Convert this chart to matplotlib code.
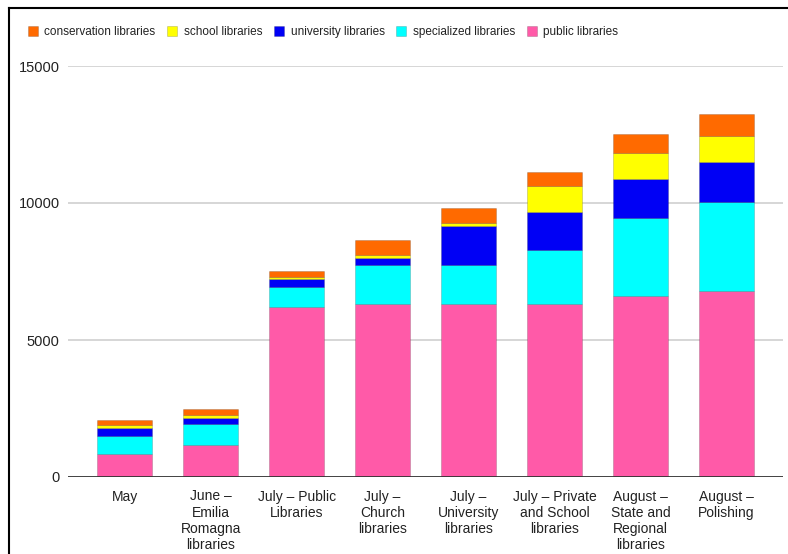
import matplotlib.pyplot as plt
import numpy as np
from matplotlib.lines import Line2D

# library rounds and counts per library type
rounds = ["May", "June –\nEmilia\nRomagna\nlibraries", "July – Public\nLibraries",
          "July –\nChurch\nlibraries", "July –\nUniversity\nlibraries",
          "July – Private\nand School\nlibraries", "August –\nState and\nRegional\nlibraries",
          "August –\nPolishing"]
public = [830, 1170, 6200, 6330, 6330, 6330, 6610, 6780]
specialized = [680, 760, 750, 1400, 1400, 1960, 2830, 3270]
university = [280, 240, 290, 280, 1430, 1390, 1440, 1460]
school = [110, 110, 50, 110, 110, 940, 940, 940]
conservation = [185, 200, 220, 540, 530, 510, 710, 800]

series = [
    ("public libraries", public, "#ff5aa8"),
    ("specialized libraries", specialized, "#00ffff"),
    ("university libraries", university, "#0000f5"),
    ("school libraries", school, "#ffff00"),
    ("conservation libraries", conservation, "#ff6a00"),
]

plt.rcParams['font.family'] = ['Liberation Sans', 'DejaVu Sans']

fig = plt.figure(figsize=(7.88, 5.54), dpi=100)
ax = fig.add_axes([68 / 788, 77 / 554, 715 / 788, 411 / 554])

x = np.arange(len(rounds))
bottom = np.zeros(len(rounds))
handles = []
for name, vals, color in series:
    b = ax.bar(x, vals, width=0.64, bottom=bottom, color=color,
               edgecolor=(0, 0, 0, 0.18), linewidth=0.6, label=name, zorder=3)
    bottom += np.array(vals)
    handles.append(b)

ax.set_xlim(-0.66, 7.66)
ax.set_ylim(0, 15000)
ax.set_yticks([0, 5000, 10000, 15000])
ax.set_yticklabels(["0", "5000", "10000", "15000"], fontsize=10.5, color="#222222")
ax.set_xticks(x)
ax.set_xticklabels(rounds, fontsize=10, color="#222222", linespacing=1.2)
ax.tick_params(axis="both", length=0)
ax.tick_params(axis="y", pad=6)
ax.tick_params(axis="x", pad=9)

for y in [5000, 10000, 15000]:
    ax.axhline(y, color="#d0d0d0", linewidth=1.2, zorder=1)
ax.axhline(0, color="#333333", linewidth=1.3, zorder=4)
for s in ax.spines.values():
    s.set_visible(False)

leg = fig.legend(handles[::-1], [h.get_label() for h in handles[::-1]],
                 loc="center left", bbox_to_anchor=(23 / 788, 1 - 32 / 554),
                 ncol=5, frameon=False, handlelength=0.85, handleheight=1.0,
                 handletextpad=0.55, columnspacing=1.0, borderaxespad=0,
                 prop={'size': 8.5})
for t in leg.get_texts():
    t.set_color("#222222")

# outer frame of the chart card
fig.add_artist(Line2D([9 / 788, 9 / 788], [0, 1 - 8 / 554], color="black", linewidth=1.5))
fig.add_artist(Line2D([9 / 788, 1], [1 - 8 / 554, 1 - 8 / 554], color="black", linewidth=1.5))

fig.savefig("out.png", dpi=100)
